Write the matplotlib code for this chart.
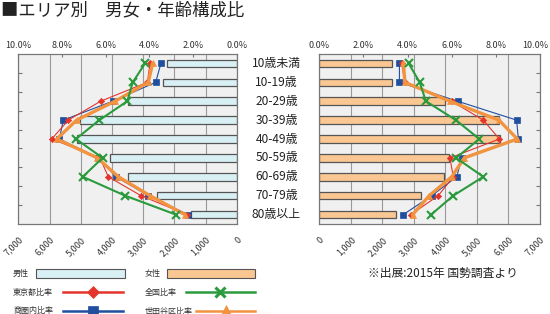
import matplotlib
matplotlib.use("Agg")
import matplotlib.pyplot as plt
import matplotlib.transforms as mtransforms
from matplotlib.lines import Line2D
from matplotlib.patches import Rectangle
import numpy as np

plt.rcParams['font.family'] = ['Noto Sans CJK JP', 'DejaVu Sans']

# age groups, top to bottom
categories = ['10歳未満', '10-19歳', '20-29歳', '30-39歳', '40-49歳',
              '50-59歳', '60-69歳', '70-79歳', '80歳以上']

# population counts (bars)
male_count = [2230, 2370, 3470, 5020, 5130, 4060, 3470, 2560, 1470]
female_count = [2300, 2320, 3990, 5700, 5740, 4100, 3940, 3220, 2440]

# share of each age group in %, lines
male_tokyo = [3.97, 4.09, 6.23, 7.71, 8.47, 6.26, 5.88, 4.38, 2.29]
male_area = [3.47, 3.71, 5.68, 7.94, 8.12, 6.34, 5.53, 4.05, 2.24]
male_national = [4.20, 4.76, 5.01, 6.29, 7.36, 6.14, 7.05, 5.11, 2.79]
male_setagaya = [3.85, 4.05, 5.57, 7.33, 8.24, 6.38, 5.42, 3.97, 2.37]

female_tokyo = [3.73, 3.88, 6.00, 7.43, 8.16, 5.92, 6.07, 5.39, 4.15]
female_area = [3.63, 3.63, 6.27, 8.94, 9.02, 6.45, 6.23, 5.09, 3.81]
female_national = [4.05, 4.55, 4.83, 6.19, 7.25, 6.20, 7.43, 6.07, 5.07]
female_setagaya = [3.81, 3.88, 5.92, 8.14, 8.97, 6.57, 6.00, 4.98, 4.23]

count_ticks = [0, 1000, 2000, 3000, 4000, 5000, 6000, 7000]
pct_ticks = [0, 2, 4, 6, 8, 10]

title = '■エリア別　男女・年齢構成比'
source_note = '※出展:2015年 国勢調査より'

MALE_COLOR = '#d8eff4'
FEMALE_COLOR = '#fac793'
RED = '#e4352b'
BLUE = '#1f4f9e'
GREEN = '#2b9a3d'
ORANGE = '#f29340'
BG = '#f0f0f0'

W, H = 550, 314
fig = plt.figure(figsize=(W / 100, H / 100), dpi=100)


def fx(px):
    return px / W


def fy(py):
    return 1 - py / H


# style of each line series: (label, color, marker, size, linewidth, legend size)
series_style = {
    'area': ('商圏内比率', BLUE, 's', 4.2, 0.8, 6.5),
    'tokyo': ('東京都比率', RED, 'D', 3.2, 0.8, 6.5),
    'setagaya': ('世田谷区比率', ORANGE, '^', 4.5, 2.4, 8.5),
    'national': ('全国比率', GREEN, 'x', 6.0, 1.5, 7.5),
}

y = np.arange(len(categories))


def panel(left_px, right_px, counts, bar_color, lines, mirrored):
    ax = fig.add_axes([fx(left_px), fy(224), fx(right_px - left_px), (224 - 54) / H])
    ax.set_facecolor(BG)
    ax.barh(y, counts, height=0.4, color=bar_color, edgecolor='#555555',
            linewidth=0.9, zorder=2)
    ax.set_ylim(8.5, -0.5)
    ax.set_xlim((7000, 0) if mirrored else (0, 7000))
    ax.set_xticks(count_ticks)
    ax.set_xticklabels([f'{v:,}' for v in count_ticks], rotation=45,
                       ha='right', rotation_mode='anchor', fontsize=6.5,
                       color='#333333')
    ax.tick_params(axis='x', length=0, pad=8)
    ax.grid(axis='x', color='#999999', linewidth=0.8, zorder=1)
    ax.set_yticks(np.arange(0.5, 8.5, 1))
    ax.set_yticklabels([])
    if not mirrored:
        ax.yaxis.tick_right()
    ax.tick_params(axis='y', direction='in', length=3, color='#777777')
    for s in ax.spines.values():
        s.set_color('#777777')
        s.set_linewidth(0.8)

    tw = ax.twiny()
    tw.set_xlim((10, 0) if mirrored else (0, 10))
    tw.set_xticks(pct_ticks)
    tw.set_xticklabels([f'{v:.1f}%' for v in pct_ticks], fontsize=6.5,
                       color='#333333')
    tw.tick_params(axis='x', direction='in', length=2, pad=3, color='#777777')
    if not mirrored:
        # keep the 10.0% label inside the picture
        last = tw.get_xticklabels()[-1]
        last.set_transform(last.get_transform() +
                           mtransforms.ScaledTranslation(-5 / 100, 0, fig.dpi_scale_trans))
    for s in tw.spines.values():
        s.set_color('#777777')
        s.set_linewidth(0.8)
    for key in ['area', 'tokyo', 'setagaya', 'national']:
        label, color, marker, size, lw, _ = series_style[key]
        tw.plot(lines[key], y, color=color, marker=marker, markersize=size,
                linewidth=lw, markeredgewidth=1.5 if marker == 'x' else 0.5,
                markeredgecolor=color, zorder=3)
    return ax


ax_m = panel(18.3, 236.7, male_count, MALE_COLOR,
             {'tokyo': male_tokyo, 'area': male_area,
              'national': male_national, 'setagaya': male_setagaya}, True)
ax_f = panel(319.3, 540, female_count, FEMALE_COLOR,
             {'tokyo': female_tokyo, 'area': female_area,
              'national': female_national, 'setagaya': female_setagaya}, False)

# age labels between the two panels
trans = mtransforms.blended_transform_factory(fig.transFigure, ax_m.transData)
for i, cat in enumerate(categories):
    fig.text(fx(276.5), i, cat, transform=trans, ha='center', va='center',
             fontsize=8.6, color='#222222')

fig.text(fx(1), fy(10), title, ha='left', va='center', fontsize=12.5,
         color='#222222')

# legend drawn by hand
for name, color, x_txt, x0, x1 in [('男性', MALE_COLOR, 13, 36, 125),
                                   ('女性', FEMALE_COLOR, 145, 167, 255)]:
    fig.text(fx(x_txt), fy(273.5), name, ha='left', va='center', fontsize=5.8,
             color='#333333')
    fig.patches.append(Rectangle((fx(x0), fy(278)), fx(x1 - x0), 9 / H,
                                 transform=fig.transFigure, facecolor=color,
                                 edgecolor='#555555', linewidth=0.8))

legend_rows = [('tokyo', 13, 292, 63, 123), ('national', 145, 292, 186, 255),
               ('area', 13, 311, 63, 123), ('setagaya', 145, 311, 196, 255)]
for key, x_txt, y_px, x0, x1 in legend_rows:
    label, color, marker, size, lw, leg_size = series_style[key]
    fig.text(fx(x_txt), fy(y_px), label, ha='left', va='center', fontsize=5.8,
             color='#333333')
    fig.lines.append(Line2D([fx(x0), fx(x1)], [fy(y_px), fy(y_px)],
                            transform=fig.transFigure, color=color,
                            linewidth=1.8))
    fig.lines.append(Line2D([fx((x0 + x1) / 2)], [fy(y_px)],
                            transform=fig.transFigure, color=color,
                            marker=marker, markersize=leg_size,
                            markeredgewidth=2.2 if marker == 'x' else 0.5,
                            linestyle='none'))

fig.text(fx(368), fy(273), source_note, ha='left', va='center', fontsize=8.5,
         color='#222222')

fig.savefig('out.png', dpi=100)
